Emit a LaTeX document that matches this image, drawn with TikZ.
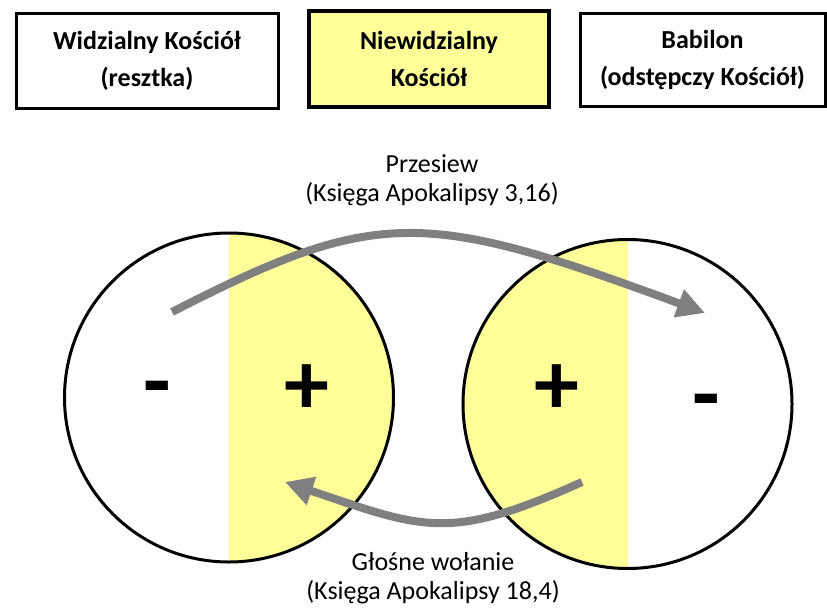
\documentclass[tikz,border=0pt]{standalone}
\usepackage{fontspec}
\setmainfont{Carlito}
\usetikzlibrary{arrows.meta}

\definecolor{paleyellow}{RGB}{255,255,153}
\definecolor{arrowgray}{RGB}{128,128,128}

\tikzset{
	church/.style={draw, line width=3pt, inner sep=0pt, align=center, font=\fontsize{26}{37}\selectfont\bfseries},
	ring/.style={draw, circle, line width=3pt, inner sep=0pt, minimum size=329pt},
	sign/.style={inner sep=0pt, font=\fontsize{90}{90}\selectfont\bfseries},
	verse/.style={align=center, inner sep=0pt, font=\fontsize{26}{29}\selectfont},
	flow/.style={line width=8pt, arrowgray, -{Triangle[length=28pt,width=28pt]}},
}

\begin{document}
\begin{tikzpicture}[x=1pt,y=-1pt]
		\useasboundingbox[fill=white] (0,0) rectangle (827,608);

		\node[church, minimum width=262pt, minimum height=95pt] (visible) at (147,60.5) {Widzialny Kościół\\(resztka)};
		\node[church, fill=paleyellow, line width=4.5pt, minimum width=240pt, minimum height=96pt] (invisible) at (429,59) {Niewidzialny\\Kościół};
		\node[church, minimum width=245pt, minimum height=93pt] (babylon) at (702.5,59.5) {Babilon\\(odstępczy Kościół)};

		\begin{scope}
			\clip (229,397.5) circle (164.5);
			\fill[paleyellow] (229,230) rectangle (400,565);
		\end{scope}
		\begin{scope}
			\clip (627.5,404) circle (164.5);
			\fill[paleyellow] (460,230) rectangle (627.5,570);
		\end{scope}

		\node[ring] (leftring) at (229,397.5) {};
		\node[ring] (rightring) at (627.5,404) {};

		\node[sign] (leftminus) at (157,396) {-};
		\node[sign] (leftplus) at (307,390) {+};
		\node[sign] (rightplus) at (557,390) {+};
		\node[sign] (rightminus) at (706,409) {-};

		\coordinate (siftfrom) at (172,312);
		\coordinate (siftto) at (705,313);
		\coordinate (callfrom) at (582,482);
		\coordinate (callto) at (285,482);

		\draw[flow] (siftfrom) .. controls (376.7,207.1) and (423.6,208.9) .. (siftto);
		\draw[flow] (callfrom) .. controls (449,542) and (424,529) .. (callto);

		\node[verse] (sifting) at (432,180) {Przesiew\\(Księga Apokalipsy 3,16)};
		\node[verse] (calling) at (433,578) {Głośne wołanie\\(Księga Apokalipsy 18,4)};

	\end{tikzpicture}
\end{document}
